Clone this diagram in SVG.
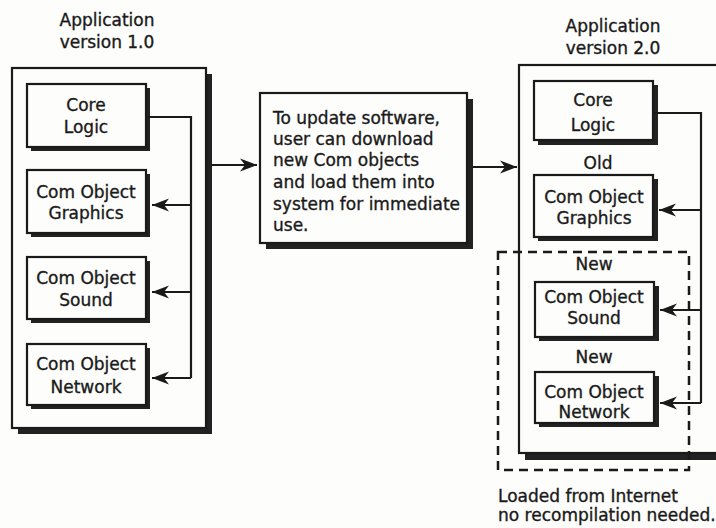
<svg xmlns="http://www.w3.org/2000/svg" width="716" height="528" viewBox="0 0 716 528">
  <defs>
    <marker id="arrow" markerUnits="userSpaceOnUse" markerWidth="18" markerHeight="14" refX="17" refY="7" orient="auto">
      <path d="M0,0.5 L17,7 L0,13.5 L5,7 z" fill="#1a1a1a"/>
    </marker>
    <style>
      .lbl { font-family: "DejaVu Sans", "Liberation Sans", sans-serif; font-size: 17px; fill: #1a1a1a; stroke: #1a1a1a; stroke-width: 0.35; text-anchor: middle; }
      .lft { text-anchor: start; }
      .shadow { fill: #222; }
      .box { fill: #fdfdfc; stroke: #1a1a1a; stroke-width: 2.2; }
      .wire { fill: none; stroke: #1a1a1a; stroke-width: 2.2; }
      .dash { fill: none; stroke: #1a1a1a; stroke-width: 2.5; stroke-dasharray: 9 6; }
    </style>
  </defs>
  <rect width="716" height="528" fill="#fdfdfc"/>

  <!-- Version 1.0 application -->
  <g id="app-v1">
    <text class="lbl" x="107" y="26">Application</text>
    <text class="lbl" x="107" y="48">version 1.0</text>
    <rect class="shadow" x="18" y="74" width="194" height="360"/>
    <rect class="box" x="12" y="68" width="194" height="360"/>
  </g>
  <g id="v1-core">
    <rect class="shadow" x="31" y="88" width="119" height="63"/>
    <rect class="box" x="27" y="84" width="119" height="63"/>
    <text class="lbl" x="86" y="111">Core</text>
    <text class="lbl" x="86" y="133">Logic</text>
  </g>
  <g id="v1-graphics">
    <rect class="shadow" x="31" y="174" width="119" height="63"/>
    <rect class="box" x="27" y="170" width="119" height="63"/>
    <text class="lbl" x="86" y="198">Com Object</text>
    <text class="lbl" x="86" y="219">Graphics</text>
  </g>
  <g id="v1-sound">
    <rect class="shadow" x="31" y="261" width="119" height="62"/>
    <rect class="box" x="27" y="257" width="119" height="62"/>
    <text class="lbl" x="86" y="284">Com Object</text>
    <text class="lbl" x="86" y="306">Sound</text>
  </g>
  <g id="v1-network">
    <rect class="shadow" x="31" y="348" width="119" height="61"/>
    <rect class="box" x="27" y="344" width="119" height="61"/>
    <text class="lbl" x="86" y="370">Com Object</text>
    <text class="lbl" x="86" y="393">Network</text>
  </g>

  <!-- Update step -->
  <g id="update">
    <rect class="shadow" x="266" y="99" width="207" height="150"/>
    <rect class="box" x="260" y="93" width="207" height="150"/>
    <text class="lbl lft" x="273" y="124">To update software,</text>
    <text class="lbl lft" x="273" y="145">user can download</text>
    <text class="lbl lft" x="273" y="166">new Com objects</text>
    <text class="lbl lft" x="273" y="188">and load them into</text>
    <text class="lbl lft" x="273" y="210">system for immediate</text>
    <text class="lbl lft" x="273" y="231">use.</text>
  </g>

  <!-- Version 2.0 application -->
  <g id="app-v2">
    <text class="lbl" x="613" y="32">Application</text>
    <text class="lbl" x="613" y="54">version 2.0</text>
    <rect class="shadow" x="525" y="71" width="220" height="389"/>
    <rect class="box" x="519" y="65" width="220" height="388"/>
  </g>
  <g id="v2-core">
    <rect class="shadow" x="538" y="85" width="120" height="60"/>
    <rect class="box" x="534" y="81" width="119" height="59"/>
    <text class="lbl" x="593" y="106">Core</text>
    <text class="lbl" x="593" y="131">Logic</text>
  </g>
  <g id="v2-graphics">
    <text class="lbl" x="598" y="169">Old</text>
    <rect class="shadow" x="538" y="179" width="120" height="62"/>
    <rect class="box" x="534" y="175" width="119" height="62"/>
    <text class="lbl" x="594" y="203">Com Object</text>
    <text class="lbl" x="594" y="224">Graphics</text>
  </g>
  <g id="v2-sound">
    <text class="lbl" x="594" y="270">New</text>
    <rect class="shadow" x="539" y="286" width="120" height="55"/>
    <rect class="box" x="535" y="282" width="119" height="55"/>
    <text class="lbl" x="594" y="303">Com Object</text>
    <text class="lbl" x="594" y="324">Sound</text>
  </g>
  <g id="v2-network">
    <text class="lbl" x="594" y="363">New</text>
    <rect class="shadow" x="539" y="376" width="120" height="51"/>
    <rect class="box" x="535" y="372" width="119" height="51"/>
    <text class="lbl" x="594" y="398">Com Object</text>
    <text class="lbl" x="594" y="418">Network</text>
  </g>

  <!-- Downloaded objects -->
  <g id="downloaded">
    <rect class="dash" x="498" y="252" width="191" height="218"/>
    <text class="lbl lft" x="498" y="502">Loaded from Internet</text>
    <text class="lbl lft" x="498" y="521">no recompilation needed.</text>
  </g>

  <!-- Connectors -->
  <g id="connectors">
    <path class="wire" d="M146,117 H191 V378"/>
    <path class="wire" d="M191,205 H152" marker-end="url(#arrow)"/>
    <path class="wire" d="M191,292 H152" marker-end="url(#arrow)"/>
    <path class="wire" d="M191,378 H152" marker-end="url(#arrow)"/>

    <path class="wire" d="M212,165 H257" marker-end="url(#arrow)"/>
    <path class="wire" d="M473,167 H517" marker-end="url(#arrow)"/>

    <path class="wire" d="M653,113 H701 V403"/>
    <path class="wire" d="M701,210 H659" marker-end="url(#arrow)"/>
    <path class="wire" d="M701,310 H660" marker-end="url(#arrow)"/>
    <path class="wire" d="M701,403 H660" marker-end="url(#arrow)"/>
  </g>
</svg>
